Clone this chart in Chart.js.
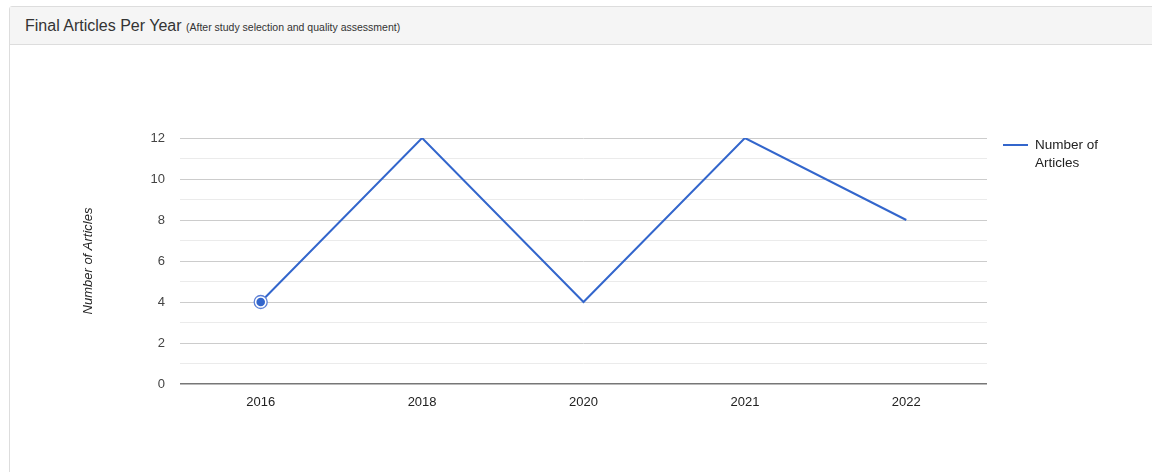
<!DOCTYPE html>
<html>
<head>
<meta charset="utf-8">
<script src="https://cdn.jsdelivr.net/npm/chart.js@4.4.0/dist/chart.umd.min.js"></script>
<style>
  html, body { margin:0; padding:0; background:#fff; width:1152px; height:472px; overflow:hidden; font-family:"Liberation Sans", Arial, sans-serif; }
  .panel { position:absolute; left:9px; top:6px; width:1160px; height:480px; border:1px solid #ddd; border-radius:3px; background:#fff; }
  .hdr { position:absolute; left:0; top:0; right:0; height:37px; background:#f5f5f5; border-bottom:1px solid #ddd; }
  .hdr .t { position:absolute; left:15px; top:10px; font-size:16px; color:#333; white-space:nowrap; }
  .hdr .t small { font-size:10.5px; color:#333; }
  #wrap { position:absolute; left:0; top:0; width:1152px; height:472px; }
</style>
</head>
<body>
<div class="panel"><div class="hdr"><div class="t">Final Articles Per Year <small>(After study selection and quality assessment)</small></div></div></div>
<div id="wrap"><canvas id="c" width="1152" height="472"></canvas></div>
<script>
const categories = ["2016", "2018", "2020", "2021", "2022"];
const articles = [4, 12, 4, 12, 8];
const seriesName = ["Number of", "Articles"];
const yAxisTitle = "Number of Articles";
const yMin = 0, yMax = 12, yStep = 2;

const FONT = "'Liberation Sans', Arial, sans-serif";
const BLUE = "#3366cc";

const extras = {
  id: "extras",
  afterDatasetsDraw(chart) {
    const ctx = chart.ctx;
    const meta = chart.getDatasetMeta(0);
    const p = meta.data[0];
    ctx.save();
    ctx.beginPath();
    ctx.arc(p.x, p.y, 6.5, 0, Math.PI * 2);
    ctx.fillStyle = "#fff";
    ctx.fill();
    ctx.strokeStyle = "#5d80d6";
    ctx.lineWidth = 1.3;
    ctx.stroke();
    ctx.beginPath();
    ctx.arc(p.x, p.y, 4.3, 0, Math.PI * 2);
    ctx.fillStyle = BLUE;
    ctx.fill();
    ctx.restore();
  },
  afterDraw(chart) {
    const ctx = chart.ctx;
    const a = chart.chartArea;
    ctx.save();
    ctx.translate(88, (a.top + a.bottom) / 2);
    ctx.rotate(-Math.PI / 2);
    ctx.font = "italic 13px " + FONT;
    ctx.fillStyle = "#222";
    ctx.textAlign = "center";
    ctx.textBaseline = "middle";
    ctx.fillText(yAxisTitle, 0, 0);
    ctx.restore();
    ctx.save();
    ctx.strokeStyle = BLUE;
    ctx.lineWidth = 2;
    ctx.beginPath();
    ctx.moveTo(1003, 145);
    ctx.lineTo(1028, 145);
    ctx.stroke();
    ctx.font = "13.5px " + FONT;
    ctx.fillStyle = "#222";
    ctx.textAlign = "left";
    ctx.textBaseline = "middle";
    seriesName.forEach((s, i) => ctx.fillText(s, 1035, 145 + i * 18));
    ctx.restore();
  }
};

new Chart(document.getElementById("c"), {
  type: "line",
  data: {
    labels: categories,
    datasets: [{
      label: seriesName.join(" "),
      data: articles,
      borderColor: BLUE,
      borderWidth: 2,
      pointRadius: 0,
      pointHoverRadius: 0,
      tension: 0,
      fill: false
    }]
  },
  options: {
    responsive: false,
    animation: false,
    events: [],
    layout: { padding: { left: 130, right: 165, top: 138, bottom: 58 } },
    plugins: { legend: { display: false }, tooltip: { enabled: false }, title: { display: false } },
    scales: {
      x: {
        offset: true,
        afterFit(s) { s.height = 30; },
        grid: { display: false, drawTicks: false },
        border: { display: false },
        ticks: { color: "#222", font: { family: FONT, size: 13 }, padding: 11, maxRotation: 0 }
      },
      y: {
        min: yMin, max: yMax,
        afterFit(s) { s.width = 50; },
        ticks: {
          stepSize: 1,
          color: "#444",
          font: { family: FONT, size: 13 },
          padding: 15,
          callback: v => (v % yStep === 0 ? String(v) : "")
        },
        grid: {
          drawTicks: false,
          color: c => c.tick.value === 0 ? "#777" : (c.tick.value % yStep === 0 ? "#cccccc" : "#ebebeb"),
          lineWidth: c => c.tick.value === 0 ? 1.5 : 1
        },
        border: { display: false }
      }
    }
  },
  plugins: [extras]
});
</script>
</body>
</html>
